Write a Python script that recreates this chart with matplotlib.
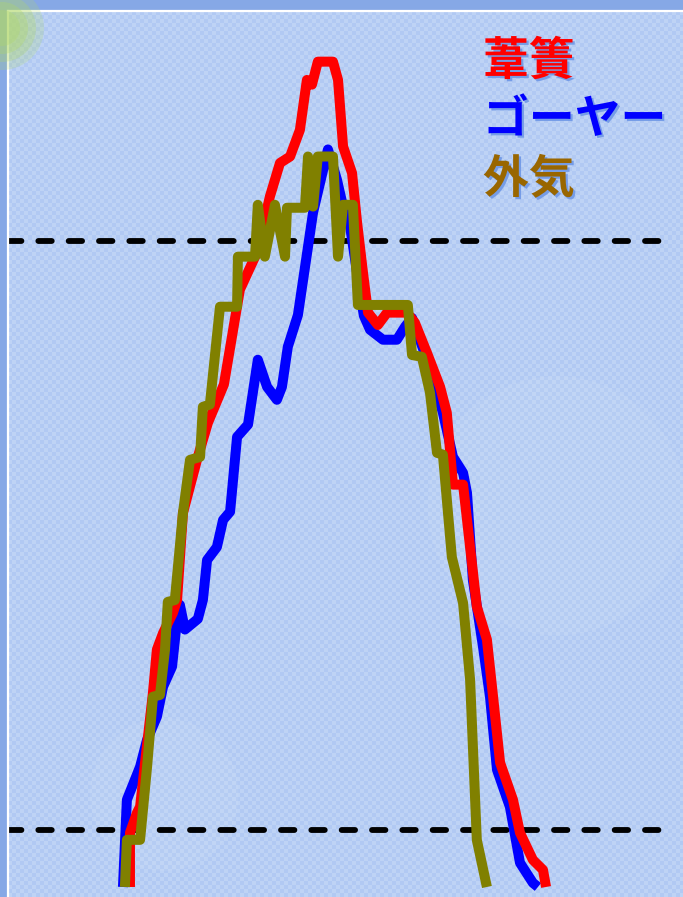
import numpy as np
import matplotlib
matplotlib.use("Agg")
import matplotlib.pyplot as plt
from matplotlib import patheffects
from matplotlib.patches import Circle, Ellipse

# time of day (h) and temperature (°C) for each sensor
t_yoshizu = [4.28, 4.28, 4.53, 4.64, 5.10, 5.24, 5.46, 5.81, 5.96, 6.17, 6.67, 7.06, 7.63,
             8.20, 8.81, 9.27, 9.63, 9.99, 10.34, 10.59, 10.77, 10.98, 11.52, 11.70, 11.88,
             12.20, 12.38, 12.59, 12.77, 13.12, 13.45, 14.16, 14.44, 14.87, 15.34, 15.58,
             15.80, 16.16, 16.41, 16.65, 17.01, 17.23, 17.48, 17.94, 18.19, 18.65, 19.01, 19.12]
T_yoshizu = [24.03, 24.95, 25.29, 25.39, 27.33, 28.06, 28.34, 28.68, 28.90, 30.38, 31.28, 31.91, 32.56,
             34.17, 34.80, 35.75, 36.32, 36.43, 36.88, 37.73, 37.65, 38.04, 38.04, 37.73, 36.60,
             36.15, 35.31, 34.46, 33.78, 33.57, 33.78, 33.78, 33.61, 33.10, 32.52, 32.08,
             30.86, 30.86, 29.80, 28.79, 28.23, 27.26, 26.14, 25.51, 24.95, 24.49, 24.32, 24.03]

t_goya = [4.03, 4.17, 4.64, 4.89, 5.24, 5.46, 5.78, 5.96, 6.06, 6.24, 6.70, 6.88, 7.03, 7.38,
          7.60, 7.85, 8.10, 8.49, 8.84, 9.17, 9.52, 9.70, 9.91, 10.27, 10.81, 11.34, 11.66,
          11.88, 12.13, 12.38, 12.62, 12.84, 13.30, 13.80, 14.09, 14.34, 14.87, 15.44, 15.80,
          16.16, 16.30, 16.51, 16.87, 17.12, 17.37, 17.83, 18.19, 18.65, 18.83]
T_goya = [24.03, 25.51, 26.07, 26.53, 26.92, 27.43, 27.77, 28.57, 28.82, 28.40, 28.58, 28.90, 29.58, 29.80,
          30.26, 30.40, 31.67, 31.88, 32.98, 32.52, 32.30, 32.52, 33.20, 33.74, 35.48, 36.55, 36.04,
          35.58, 35.24, 34.46, 33.73, 33.49, 33.32, 33.32, 33.54, 33.69, 32.98, 32.08, 31.33,
          31.06, 30.72, 29.24, 28.11, 27.26, 26.02, 25.39, 24.44, 24.10, 24.03]

t_outside = [4.10, 4.17, 4.64, 4.89, 5.10, 5.35, 5.53, 5.63, 5.88, 6.17, 6.42, 6.78, 6.88, 7.13,
             7.49, 8.10, 8.13, 8.74, 8.84, 9.09, 9.45, 9.81, 9.88, 10.52, 10.63, 10.81, 10.98,
             11.52, 11.70, 11.88, 12.23, 12.41, 14.19, 14.34, 14.69, 14.98, 15.23, 15.44, 15.76,
             16.16, 16.41, 16.65, 17.01]
T_outside = [24.03, 24.83, 24.83, 26.07, 27.26, 27.29, 28.06, 28.87, 28.90, 30.38, 31.28, 31.33, 32.18, 32.22,
             33.88, 33.88, 34.73, 34.73, 35.61, 34.73, 35.61, 34.73, 35.56, 35.56, 36.43, 35.58, 36.43,
             36.43, 34.73, 35.61, 35.61, 33.91, 33.91, 33.06, 33.03, 32.42, 31.40, 31.37, 29.63,
             28.85, 27.55, 24.83, 24.03]

labels = ["葦簀", "ゴーヤー", "外気"]
line_colors = ["#ff0000", "#0000ff", "#808000"]
label_colors = ["#ff0000", "#0000ff", "#996600"]
ref_levels = [35, 25]

fig = plt.figure(figsize=(6.83, 8.97), dpi=100)
fig.patch.set_facecolor("#86a8e6")

ax = fig.add_axes([8 / 683, 0.0, 692 / 683, 886 / 897])
ax.set_facecolor("#b8cff5")
xlim = (-0.07, 24.61)
ylim = (23.86, 38.9)

# fine halftone texture of the slide background
rows, cols = 886 // 4, 692 // 4
ii, jj = np.mgrid[0:rows, 0:cols]
tex = np.zeros((rows, cols, 4))
mask = (ii + jj) % 2 == 0
tex[mask] = [1, 1, 1, 0.10]
tex[~mask] = [0.45, 0.60, 0.90, 0.10]
ax.imshow(tex, extent=(xlim[0], xlim[1], ylim[0], ylim[1]), aspect="auto",
          interpolation="nearest", zorder=0)

# soft lighter discs in the background
ax.add_patch(Ellipse((19.5, 30.5), 9.2, 4.4, facecolor="white", edgecolor="none", alpha=0.06, zorder=0.5))
ax.add_patch(Ellipse((5.5, 25.6), 5.3, 2.6, facecolor="white", edgecolor="none", alpha=0.06, zorder=0.5))

ax.set_xlim(*xlim)
ax.set_ylim(*ylim)

ax.hlines(ref_levels, xlim[0], 23.6, colors="black", linewidth=4.2,
          linestyles=[(0, (2.3, 2.9))], capstyle="round", zorder=2)

common = dict(linewidth=7.2, solid_joinstyle="round", solid_capstyle="butt")
ax.plot(t_goya, T_goya, color=line_colors[1], zorder=3, **common)
ax.plot(t_yoshizu, T_yoshizu, color=line_colors[0], zorder=4, **common)
ax.plot(t_outside, T_outside, color=line_colors[2], zorder=5, **common)

for side in ["right", "bottom"]:
    ax.spines[side].set_visible(False)
for side in ["top", "left"]:
    ax.spines[side].set_color("white")
    ax.spines[side].set_linewidth(1.6)
ax.set_xticks([])
ax.set_yticks([])

# decorative green blob in the corner
blob_ax = fig.add_axes([0, 0, 1, 1], facecolor="none", zorder=6)
blob_ax.set_xlim(0, 683)
blob_ax.set_ylim(897, 0)
blob_ax.axis("off")
for r, a in [(42, 0.22), (34, 0.28), (26, 0.32), (18, 0.3)]:
    blob_ax.add_patch(Circle((2, 28), r, facecolor="#b0d868", edgecolor="none", alpha=a))

shadow = [patheffects.withSimplePatchShadow(offset=(1.6, -1.6), shadow_rgbFace="#6f98e6", alpha=0.9)]
label_y = [62, 120, 180]
for text, col, yy in zip(labels, label_colors, label_y):
    fig.text(483 / 683, 1 - yy / 897, text, color=col, fontsize=33, fontweight="bold",
             family=["Noto Sans CJK JP", "DejaVu Sans"], ha="left", va="center",
             path_effects=shadow, zorder=10)

fig.savefig("out.png", dpi=100)
